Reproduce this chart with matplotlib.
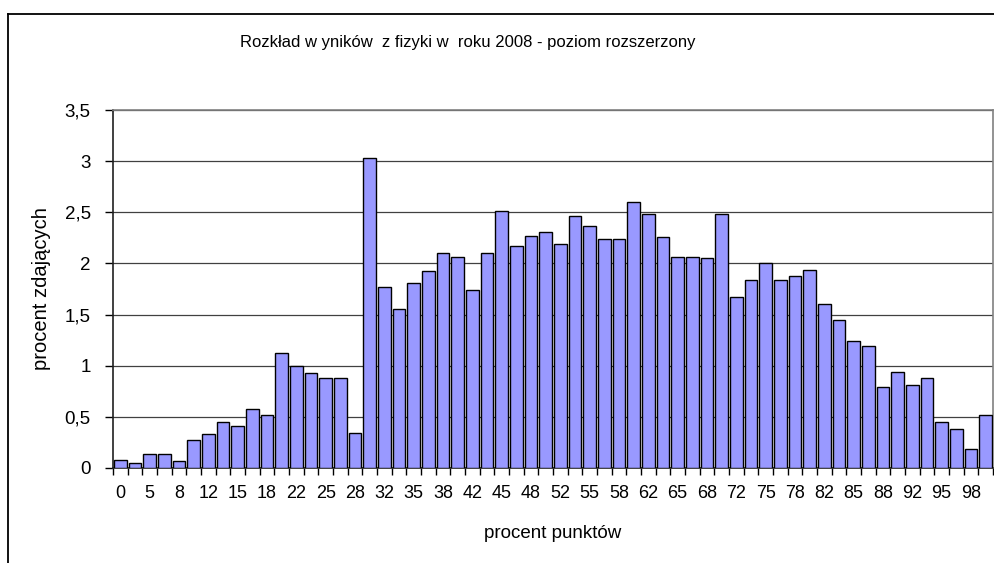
import numpy as np
import matplotlib.pyplot as plt
from matplotlib.lines import Line2D

# percent of points (60-point exam), one bar per score that occurred
categories = [0, 3, 5, 7, 8, 10, 12, 13, 15, 17, 18, 20, 22, 23, 25, 27, 28, 30,
              32, 33, 35, 37, 38, 40, 42, 43, 45, 47, 48, 50, 52, 53, 55, 57, 58,
              60, 62, 63, 65, 67, 68, 70, 72, 73, 75, 77, 78, 80, 82, 83, 85, 87,
              88, 90, 92, 93, 95, 97, 98, 100]
# percent of candidates
share = [0.08, 0.05, 0.14, 0.14, 0.07, 0.27, 0.33, 0.45, 0.41, 0.58,
         0.52, 1.12, 1.00, 0.93, 0.88, 0.88, 0.34, 3.03, 1.77, 1.55,
         1.81, 1.93, 2.10, 2.06, 1.74, 2.10, 2.51, 2.17, 2.27, 2.31,
         2.19, 2.46, 2.37, 2.24, 2.24, 2.60, 2.48, 2.26, 2.06, 2.06,
         2.05, 2.48, 1.67, 1.84, 2.00, 1.84, 1.88, 1.94, 1.60, 1.45,
         1.24, 1.19, 0.79, 0.94, 0.81, 0.88, 0.45, 0.38, 0.19, 0.52]
yticks = [0, 0.5, 1, 1.5, 2, 2.5, 3, 3.5]

W, H = 994, 563
plt.rcParams["font.family"] = ["Liberation Sans", "DejaVu Sans"]
fig = plt.figure(figsize=(W / 100, H / 100), dpi=100)
ax = fig.add_axes([113 / W, 1 - 468 / H, 880 / W, 358 / H])

x = np.arange(len(categories))
ax.bar(x, share, width=0.88, color="#9999ff", edgecolor="black",
       linewidth=1.0, zorder=3)

ax.set_xlim(-0.5, len(categories) - 0.5)
ax.set_ylim(0, 3.5)

# y axis: comma decimals, gridlines at every tick
ax.set_yticks(yticks, labels=[f"{v:g}".replace(".", ",") for v in yticks])
ax.yaxis.grid(True, color="#404040", linewidth=0.9, zorder=0)
ax.tick_params(axis="y", direction="out", length=6, width=1, pad=10,
               labelsize=13.5, colors="black")

# x axis: ticks between bars, labels under every second bar
ax.set_xticks(np.arange(-0.5, len(categories), 1), labels=[])
ax.set_xticks(x[::2], labels=[str(c) for c in categories[::2]], minor=True)
ax.tick_params(axis="x", which="major", direction="out", length=5, width=1)
ax.tick_params(axis="x", which="minor", length=0, pad=12, labelsize=13)

for side in ("top", "right"):
    ax.spines[side].set_color("#808080")
    ax.spines[side].set_linewidth(1.2)
for side in ("left", "bottom"):
    ax.spines[side].set_color("#202020")
    ax.spines[side].set_linewidth(1.2)

fig.text(468 / W, 1 - 43 / H, "Rozkład w yników  z fizyki w  roku 2008 - poziom rozszerzony",
         ha="center", va="center", fontsize=12)
fig.text(553 / W, 1 - 533 / H, "procent punktów", ha="center", va="center",
         fontsize=13.5)
fig.text(42 / W, 1 - 289 / H, "procent zdających", ha="center", va="center",
         rotation=90, fontsize=14.5)

# chart frame (left and top edges)
fig.add_artist(Line2D([8 / W, 8 / W], [1 - 14 / H, 0], color="black", linewidth=1.3,
                      transform=fig.transFigure))
fig.add_artist(Line2D([8 / W, 1], [1 - 14 / H, 1 - 14 / H], color="black",
                      linewidth=1.3, transform=fig.transFigure))

fig.savefig("out.png", dpi=100)
